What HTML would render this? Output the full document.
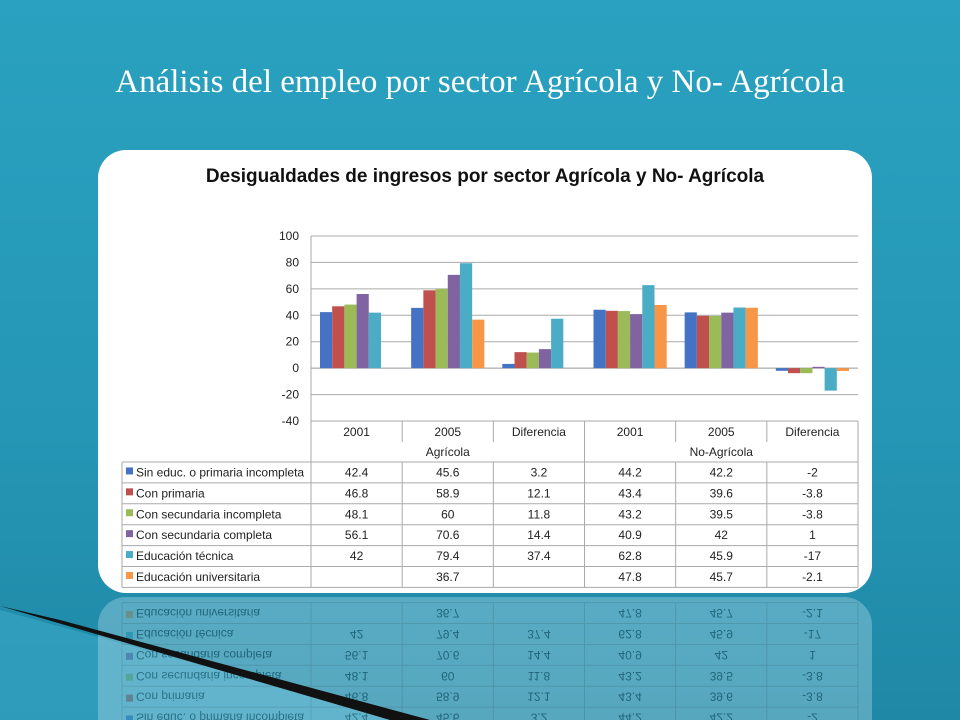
<!DOCTYPE html>
<html><head><meta charset="utf-8"><style>
html,body{margin:0;padding:0;width:960px;height:720px;overflow:hidden}
body{background:linear-gradient(180deg,#2aa1c0 0%,#2596b5 60%,#1f88a6 100%);font-family:"Liberation Sans",sans-serif}
#title{position:absolute;left:0;top:64px;width:960px;text-align:center;color:#fff;font-family:"Liberation Serif",serif;font-size:33px}
</style></head><body>
<div id="title">Análisis del empleo por sector Agrícola y No- Agrícola</div>
<svg id="svg" width="960" height="720" style="position:absolute;left:0;top:0">
<polygon points="0,610 0,720 400,720" fill="#3aa9c8" opacity="0.6"/>
<g id="refl" opacity="0.35" transform="translate(0,1190) scale(1,-1)"></g>
<polygon points="0,606 60,620 430,720 390,720" fill="#111"/>
<rect x="98" y="150" width="774" height="443" rx="28" fill="#fff"/>
<text x="485" y="182" text-anchor="middle" font-size="19" font-weight="bold" fill="#111">Desigualdades de ingresos por sector Agrícola y No- Agrícola</text>
<g id="plot"></g>
<g id="tbl"></g>
</svg>
<script>
const categories=["2001","2005","Diferencia","2001","2005","Diferencia"];
const sectors=["Agrícola","No-Agrícola"];
const seriesNames=["Sin educ. o primaria incompleta","Con primaria","Con secundaria incompleta","Con secundaria completa","Educación técnica","Educación universitaria"];
const sinEduc=[42.4,45.6,3.2,44.2,42.2,-2];
const conPrimaria=[46.8,58.9,12.1,43.4,39.6,-3.8];
const secIncompleta=[48.1,60,11.8,43.2,39.5,-3.8];
const secCompleta=[56.1,70.6,14.4,40.9,42,1];
const tecnica=[42,79.4,37.4,62.8,45.9,-17];
const universitaria=[null,36.7,null,47.8,45.7,-2.1];
const yTicks=[100,80,60,40,20,0,-20,-40];
const series=[sinEduc,conPrimaria,secIncompleta,secCompleta,tecnica,universitaria];
const colors=["#4472c4","#c0504d","#9bbb59","#8064a2","#4bacc6","#f79646"];
const NS="http://www.w3.org/2000/svg";
const X0=311,X1=858,Ytop=236,Ybot=421,YMAX=100,YMIN=-40;
const gw=(X1-X0)/categories.length;
function y(v){return Ytop+(YMAX-v)/(YMAX-YMIN)*(Ybot-Ytop);}
function xg(i){return X0+i*gw;}
function mk(p,tag,a,txt){const e=document.createElementNS(NS,tag);for(const k in a)e.setAttribute(k,a[k]);if(txt!==undefined)e.textContent=txt;p.appendChild(e);return e;}
const plot=document.getElementById('plot');
yTicks.forEach(t=>{
 const l=mk(plot,'line',{x1:X0,x2:X1,y1:y(t),y2:y(t),stroke:t===0?'#999':'#aaa','stroke-width':1});
 
 
 const tx=mk(plot,'text',{x:X0-12,y:y(t)+4,'text-anchor':'end','font-size':12,fill:'#222'},t);
 
 
});
mk(plot,'line',{x1:X0,x2:X0,y1:Ytop,y2:Ybot,stroke:'#aaa'});
const bw=12.2,off=(gw-6*bw)/2;
series.forEach((s,si)=>s.forEach((v,ci)=>{
 if(v===null)return;
 const r=mk(plot,'rect',{x:xg(ci)+off+si*bw,y:Math.min(y(v),y(0)),width:bw,height:Math.abs(y(v)-y(0)),fill:colors[si]});
 
 
}));
function table(g,withHeader){
 const rowTop=462,rh=20.9,L=122;
 const st={stroke:'#aaa','stroke-width':1};
 if(withHeader){
  categories.forEach((c,i)=>{
   const t=mk(g,'text',{x:xg(i)+gw/2,y:436,'text-anchor':'middle','font-size':12,fill:'#222'},c);
   
   
  });
  sectors.forEach((s,i)=>{
   const t=mk(g,'text',{x:xg(i*3)+gw*1.5,y:456,'text-anchor':'middle','font-size':12,fill:'#222'},s);
   
   
  });
  for(let i=0;i<=6;i++){mk(g,'line',Object.assign({x1:xg(i),x2:xg(i),y1:421,y2:i%3===0?rowTop:442},st));}
  mk(g,'line',Object.assign({x1:X0,x2:X1,y1:421,y2:421},st));
 }
 for(let r=0;r<=6;r++)mk(g,'line',Object.assign({x1:L,x2:X1,y1:rowTop+r*rh,y2:rowTop+r*rh},st));
 mk(g,'line',Object.assign({x1:L,x2:L,y1:rowTop,y2:rowTop+6*rh},st));
 for(let i=0;i<=6;i++)mk(g,'line',Object.assign({x1:xg(i),x2:xg(i),y1:rowTop,y2:rowTop+6*rh},st));
 series.forEach((s,si)=>{
  const cy=rowTop+si*rh+rh/2+4;
  mk(g,'rect',{x:L+4,y:cy-9,width:7,height:7,fill:colors[si]});
  const n=mk(g,'text',{x:L+14,y:cy,'font-size':12,fill:'#222'},seriesNames[si]);
  
  
  s.forEach((v,ci)=>{if(v===null)return;
   const t=mk(g,'text',{x:xg(ci)+gw/2,y:cy,'text-anchor':'middle','font-size':12,fill:'#222'},v);
   
   
  });
 });
}
table(document.getElementById('tbl'),true);
const rf=document.getElementById('refl');
mk(rf,'rect',{x:98,y:440,width:774,height:153,rx:28,fill:'#bfe3ee'});
table(rf,false);
</script>
</body></html>
